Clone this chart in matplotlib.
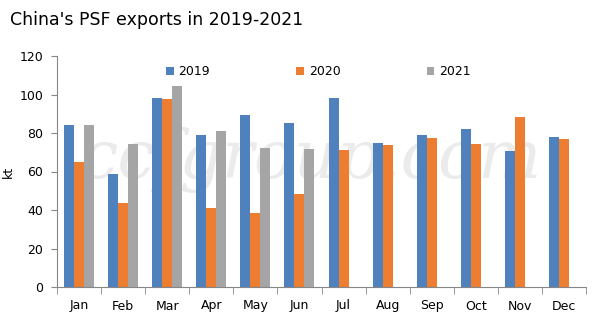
import numpy as np
import matplotlib
matplotlib.use('Agg')
import matplotlib.pyplot as plt

months = ['Jan', 'Feb', 'Mar', 'Apr', 'May', 'Jun', 'Jul', 'Aug', 'Sep', 'Oct', 'Nov', 'Dec']
y2019 = [84.2, 58.8, 98.2, 79.0, 89.4, 85.3, 98.2, 74.9, 79.0, 82.1, 70.7, 78.0]
y2020 = [65.0, 43.7, 97.7, 41.1, 38.5, 48.4, 71.3, 73.8, 77.5, 74.4, 88.4, 77.0]
y2021 = [84.2, 74.4, 104.5, 81.1, 72.3, 71.8, np.nan, np.nan, np.nan, np.nan, np.nan, np.nan]

series = [('2019', y2019, '#4f81bd'), ('2020', y2020, '#ed7d31'), ('2021', y2021, '#a5a5a5')]

fig = plt.figure(figsize=(6.14, 3.28), dpi=100)
ax = fig.add_axes([57 / 614, 1 - 287 / 328, (586 - 57) / 614, (287 - 56) / 328])

x = np.arange(len(months))
w = 0.227
for i, (name, vals, col) in enumerate(series):
    ax.bar(x + (i - 1) * w, vals, width=w, color=col, label=name)

# faint watermark
ax.text(0.48, 0.55, 'ccfgroup.com', transform=ax.transAxes, ha='center', va='center',
        fontsize=48, family='DejaVu Serif', style='italic', color='#ebebeb', zorder=0)

ax.set_xlim(-0.5, 11.5)
ax.set_ylim(0, 120)
ax.set_yticks(np.arange(0, 121, 20))
ax.set_xticks(x)
ax.set_xticklabels(months)
ax.set_xticks(np.arange(-0.5, 12, 1), minor=True)
ax.tick_params(axis='x', which='major', length=0, pad=9, labelsize=9)
ax.tick_params(axis='x', which='minor', length=5, color='#868686')
ax.tick_params(axis='y', length=4, color='#868686', labelsize=9, pad=6)
for s in ['top', 'right']:
    ax.spines[s].set_visible(False)
for s in ['left', 'bottom']:
    ax.spines[s].set_color('#868686')
ax.set_ylabel('kt', fontsize=9)
ax.yaxis.set_label_coords(-0.08, 0.5)

ax.legend(loc='upper left', bbox_to_anchor=(0.185, 1.01), ncol=3, frameon=False,
          fontsize=9, handlelength=0.6, handleheight=0.6, handletextpad=0.4,
          columnspacing=6.9)

fig.text(10 / 614, 1 - 20 / 328, "China's PSF exports in 2019-2021", fontsize=12.5,
         va='center', ha='left')

fig.savefig('out.png', dpi=100)
